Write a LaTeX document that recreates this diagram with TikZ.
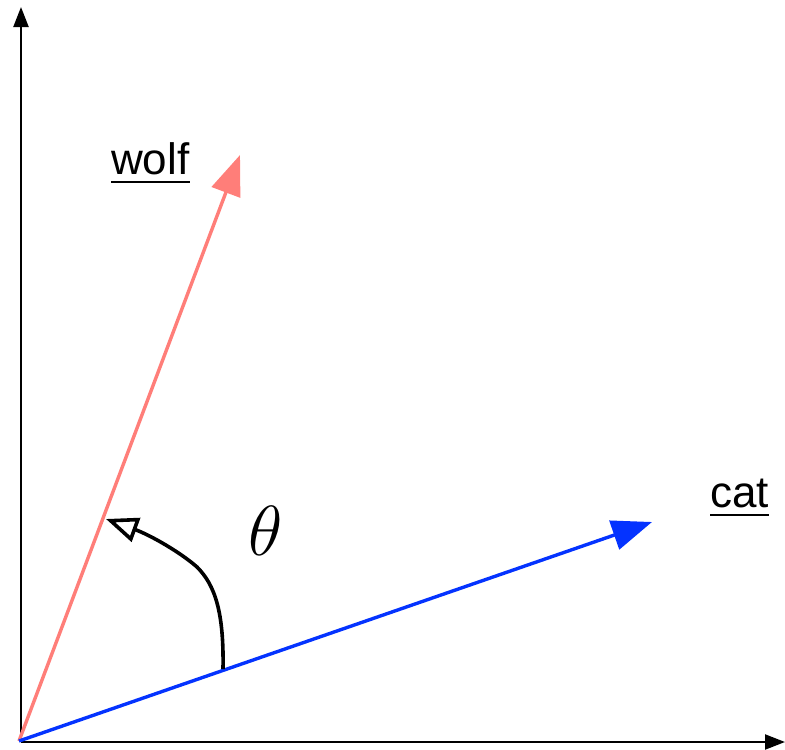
\documentclass[tikz,border=0pt]{standalone}
\usepackage{fontspec}
\setmainfont{Liberation Sans}
\usetikzlibrary{arrows.meta}
\definecolor{wolfc}{RGB}{255,126,121}
\definecolor{catc}{RGB}{4,51,255}
\begin{document}
\begin{tikzpicture}[x=1pt,y=-1pt,
  axis/.style={line width=2.2pt,-{Triangle[length=20pt,width=15pt]}},
  vec/.style={line width=3.4pt,-{Triangle[length=40pt,width=30pt]}},
  lbl/.style={inner sep=0pt,anchor=base west,font=\fontsize{44}{48}\selectfont},
  uline/.style={line width=2.8pt}]
\useasboundingbox (0,0) rectangle (785,750);
\coordinate (O) at (19,741);
\coordinate (yorig) at (21,742);
\coordinate (ytip) at (21,7);
\coordinate (xtip) at (785,742);
\coordinate (wolftip) at (240,155);
\coordinate (cattip) at (652,522);
\coordinate (arcstart) at (223,669);
\coordinate (arcmid) at (197,567);
\coordinate (arcend) at (106,519);
\draw[axis] (yorig) -- (ytip);
\draw[axis] (yorig) -- (xtip);
\draw[vec,wolfc] (O) -- (wolftip);
\draw[vec,catc] (O) -- (cattip);
\draw[line width=3.6pt,-{Triangle[open,length=32pt,width=25pt,fill=white]}]
  (arcstart) .. controls (224,612) and (215,585) .. (arcmid)
  .. controls (180,552) and (150,535) .. (arcend);
\node[lbl] (wolf) at (111,174) {wolf};
\draw[uline] ([yshift=-8pt]wolf.base west) -- ([yshift=-8pt]wolf.base east);
\node[lbl] (cat) at (710,507) {cat};
\draw[uline] ([yshift=-8pt]cat.base west) -- ([yshift=-8pt]cat.base east);
\node[inner sep=0pt,scale=2.85,font=\Huge] (theta) at (266,531) {$\theta$};
\end{tikzpicture}
\end{document}
